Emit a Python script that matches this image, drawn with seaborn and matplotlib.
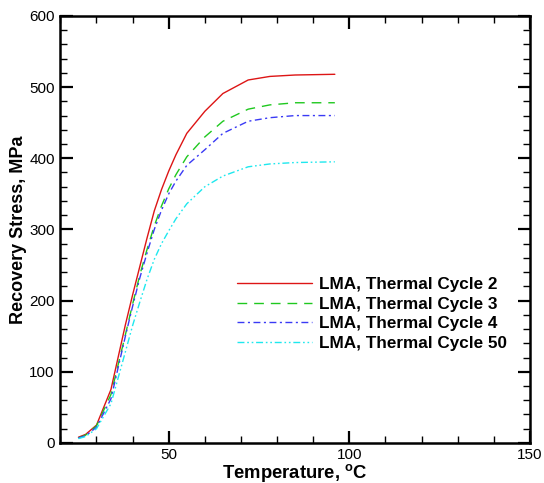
import matplotlib
matplotlib.use("Agg")
import matplotlib.pyplot as plt
from matplotlib.ticker import MultipleLocator
import seaborn as sns
import pandas as pd

# temperature points (deg C)
temperature = [25, 27, 30, 34, 38, 40, 42, 44, 46, 48, 50, 52, 55, 60, 65, 72, 78, 85, 96]

# recovery stress (MPa) for each thermal cycle
cycle_2 = [8, 12, 25, 75, 166, 208, 248, 288, 326, 356, 382, 405, 435, 466, 491, 510, 515, 517, 518]
cycle_3 = [7, 11, 24, 68, 152, 195, 236, 272, 305, 333, 357, 377, 402, 430, 452, 469, 475, 478, 478]
cycle_4 = [7, 10, 22, 62, 150, 192, 232, 267, 300, 327, 350, 368, 390, 412, 435, 452, 457, 460, 460]
cycle_50 = [6, 9, 20, 55, 128, 165, 198, 230, 258, 280, 298, 315, 336, 360, 375, 388, 392, 394, 395]

labels = ["LMA, Thermal Cycle 2", "LMA, Thermal Cycle 3",
          "LMA, Thermal Cycle 4", "LMA, Thermal Cycle 50"]
series = [cycle_2, cycle_3, cycle_4, cycle_50]

rows = []
for lab, vals in zip(labels, series):
    for t, s in zip(temperature, vals):
        rows.append({"T": t, "S": s, "series": lab})
df = pd.DataFrame(rows)

sns.set_theme(style="ticks")
plt.rcParams['font.family'] = ['Liberation Sans', 'DejaVu Sans']
plt.rcParams['mathtext.fontset'] = 'custom'
plt.rcParams['mathtext.rm'] = 'Liberation Sans'
plt.rcParams['mathtext.bf'] = 'Liberation Sans:bold'
plt.rcParams['text.color'] = 'black'
plt.rcParams['axes.labelcolor'] = 'black'

colors = {labels[0]: "#dd1515", labels[1]: "#1fc81f",
          labels[2]: "#3a3af5", labels[3]: "#1ee8ee"}
dashes = {labels[0]: "", labels[1]: (7, 5),
          labels[2]: (5, 2.5, 1.5, 2.5), labels[3]: (5, 2, 1.2, 2, 1.2, 2)}

fig = plt.figure(figsize=(5.44, 4.83), dpi=100)
ax = fig.add_axes([0.111, 0.083, 0.863, 0.884])

sns.lineplot(data=df, x="T", y="S", hue="series", style="series",
             palette=colors, dashes=dashes, linewidth=1.0,
             estimator=None, sort=False, ax=ax)

ax.set_xlim(20, 150)
ax.set_ylim(0, 600)
ax.xaxis.set_major_locator(MultipleLocator(50))
ax.xaxis.set_minor_locator(MultipleLocator(10))
ax.yaxis.set_major_locator(MultipleLocator(100))
ax.yaxis.set_minor_locator(MultipleLocator(20))

ax.tick_params(which="both", direction="in", top=True, right=True,
               labelsize=11, colors="black")
ax.tick_params(which="major", length=9, width=1.6, pad=4)
ax.tick_params(which="minor", length=5, width=1.0)
for sp in ax.spines.values():
    sp.set_linewidth(1.8)
    sp.set_color("black")

ax.set_xlabel(r"Temperature, $^{\mathbf{o}}$C", fontsize=13.3,
              fontweight="bold", labelpad=0, color="black")
ax.set_ylabel("Recovery Stress, MPa", fontsize=13, fontweight="bold",
              labelpad=2, color="black")

handles, labs = ax.get_legend_handles_labels()
leg = ax.legend(handles, labs, loc="upper left", bbox_to_anchor=(0.376, 0.388),
                frameon=False, fontsize=12.3, handlelength=4.4,
                handletextpad=0.4, labelspacing=0.27, borderpad=0,
                borderaxespad=0)
for txt in leg.get_texts():
    txt.set_fontweight("bold")
    txt.set_color("black")

fig.savefig("out.png", dpi=100)
